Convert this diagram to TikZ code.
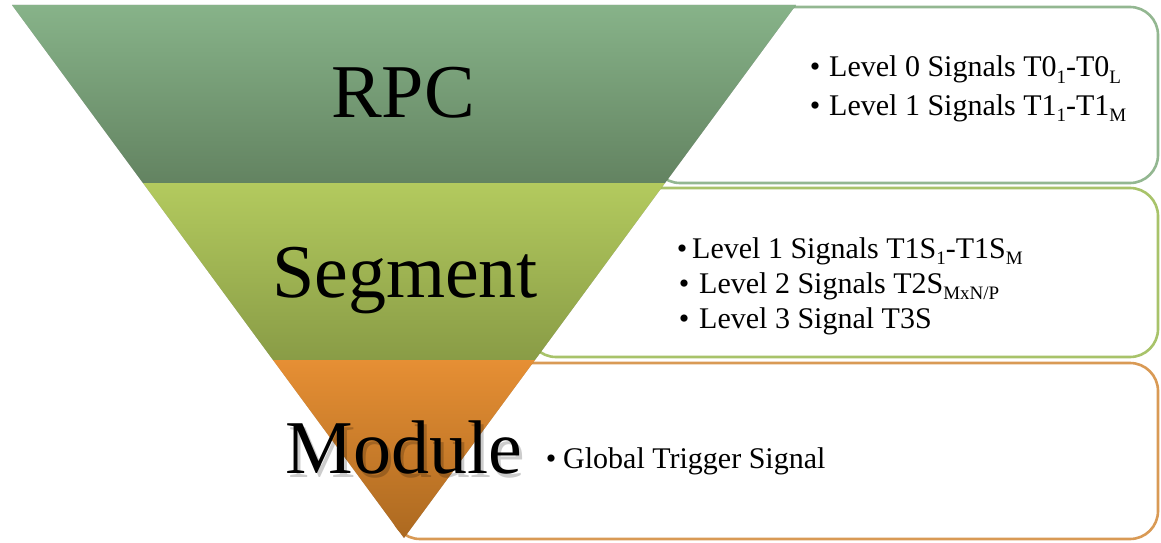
\documentclass[tikz,border=0pt]{standalone}
\usepackage{fontspec}
\setmainfont{Liberation Serif}
\usetikzlibrary{calc}

\definecolor{rpcTop}{HTML}{87B389}
\definecolor{rpcBot}{HTML}{638361}
\definecolor{segTop}{HTML}{B3CA5E}
\definecolor{segBot}{HTML}{899C46}
\definecolor{modTop}{HTML}{E68F34}
\definecolor{modBot}{HTML}{AC6920}
\definecolor{rpcLine}{HTML}{93B791}
\definecolor{segLine}{HTML}{A8C36A}
\definecolor{modLine}{HTML}{D99A55}

\newcommand{\lowsub}[1]{\raisebox{-0.22em}{\fontsize{19}{20}\selectfont #1}}

\tikzset{
  infobox/.style={draw, line width=2.6pt, fill=white, rounded corners=28pt},
  bigword/.style={font=\fontsize{76}{80}\selectfont, inner sep=0pt, anchor=base},
  item/.style={font=\fontsize{30}{36}\selectfont, inner sep=0pt, anchor=base west},
  dot/.style={font=\fontsize{30}{36}\selectfont, inner sep=0pt, anchor=base},
}

\begin{document}
\begin{tikzpicture}[x=1pt,y=-1pt]
\useasboundingbox (0,0) rectangle (1161,543);

% corner points of the funnel and its band boundaries
\coordinate (tl) at (12,5);
\coordinate (tr) at (796,5);
\coordinate (l1) at (143,183);
\coordinate (r1) at (665,183);
\coordinate (l2) at (273,360);
\coordinate (r2) at (535,360);
\coordinate (apex) at (404,538);

% description boxes, partly hidden behind the funnel
\draw[infobox, draw=rpcLine] (652,7) rectangle (1158,183);
\draw[infobox, draw=segLine] (528,188) rectangle (1158,357);
\draw[infobox, draw=modLine] (392,363) rectangle (1158,539);

% soft shadow of the funnel, falling down and to the left
\foreach \d/\o in {6/0.04,4.5/0.05,3/0.07,1.8/0.08,0.8/0.08}{
  \fill[black, opacity=\o, shift={(-\d pt,-\d pt)}] (tl) -- (tr) -- (apex) -- cycle;
}

% the three bands
\shade[top color=rpcTop, bottom color=rpcBot] (tl) -- (tr) -- (r1) -- (l1) -- cycle;
\shade[top color=segTop, bottom color=segBot] (l1) -- (r1) -- (r2) -- (l2) -- cycle;
\shade[top color=modTop, bottom color=modBot] (l2) -- (r2) -- (apex) -- cycle;

% band titles
\node[bigword] (rpc) at (403,117) {RPC};
\node[bigword] (seg) at (405,297) {Segment};
\node[bigword, text=black, opacity=0.2] (modshadow) at (407,477) {Module};
\node[bigword] (mod) at (404,473) {Module};

% RPC box
\node[dot] (b1) at (815,77) {•};
\node[item] (t1) at (829,77) {Level 0 Signals T0\lowsub{1}-T0\lowsub{L}};
\node[dot] (b2) at (815,115) {•};
\node[item] (t2) at (829,115) {Level 1 Signals T1\lowsub{1}-T1\lowsub{M}};

% Segment box
\node[dot] (b3) at (682,258) {•};
\node[item] (t3) at (692,258) {Level 1 Signals T1S\lowsub{1}-T1S\lowsub{M}};
\node[dot] (b4) at (684,293) {•};
\node[item] (t4) at (699,293) {Level 2 Signals T2S\lowsub{MxN/P}};
\node[dot] (b5) at (684,328) {•};
\node[item] (t5) at (699,328) {Level 3 Signal T3S};

% Module box
\node[dot] (b6) at (551,468) {•};
\node[item] (t6) at (563,468) {Global Trigger Signal};
\end{tikzpicture}
\end{document}
